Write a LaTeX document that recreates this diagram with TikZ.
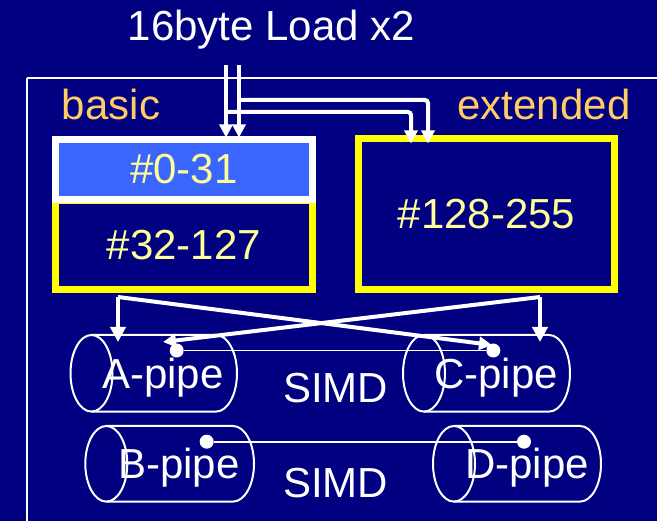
\documentclass[tikz,border=0pt]{standalone}
\usepackage{fontspec}
\setmainfont{Liberation Sans}
\usetikzlibrary{arrows.meta}
\definecolor{navy}{RGB}{0,0,128}
\definecolor{regblue}{RGB}{58,102,255}
\definecolor{labelorange}{RGB}{255,204,102}
\definecolor{numyellow}{RGB}{255,255,153}
\definecolor{boxyellow}{RGB}{255,255,0}
\tikzset{
  bigtext/.style={font=\fontsize{42}{48}\selectfont, inner sep=0pt},
  regbox/.style={bigtext, line width=7pt, text=numyellow, minimum width=#1, inner sep=0pt},
  conn/.style={white, line width=4pt, -{Triangle[length=13pt,width=13pt]}},
  bigconn/.style={white, line width=4pt, -{Triangle[length=15pt,width=15pt]}},
  pipeline/.style={white, line width=2pt},
  pipedot/.style={circle, fill=white, inner sep=0pt, minimum size=14pt},
  dotlink/.style={white, line width=1.8pt},
}
% left centre x, right centre x, centre y, y radius
\newcommand\cylpipe[4]{%
  \draw[pipeline] (#1,#3) ellipse (21 and #4);
  \draw[pipeline] (#1,#3-#4) -- (#2,#3-#4) arc(-90:90:21 and #4) -- (#1,#3+#4);
}
\begin{document}
\begin{tikzpicture}[x=1pt,y=-1pt]
\fill[navy] (0,0) rectangle (657,521);
\useasboundingbox (0,0) rectangle (657,521);
% outer frame
\draw[white, line width=1.5pt] (27,78) -- (680,78);
\draw[white, line width=1.5pt] (27,78) -- (27,540);
% title and labels
\node[bigtext, text=white, anchor=base] (title) at (271.5,41) {16byte Load x2};
\node[bigtext, text=labelorange, anchor=base] (basic) at (111,120) {basic};
\node[bigtext, text=labelorange, anchor=base] (ext) at (544,120) {extended};
% register boxes
\node[regbox=257pt, draw=boxyellow, minimum height=89pt] (reg2) at (184,245) {\#32-127};
\node[regbox=257pt, draw=white, fill=regblue, minimum height=60pt] (reg1) at (184,169.5) {\#0-31};
\node[regbox=256pt, draw=boxyellow, minimum height=151pt] (reg3) at (486.5,214) {\#128-255};
% pipes
\cylpipe{91.5}{216}{373.3}{38.3}
\cylpipe{424}{549}{373.3}{38.3}
\cylpipe{106.3}{233}{463.8}{37.8}
\cylpipe{454}{580}{463.8}{37.8}
\node[bigtext, text=white, anchor=base] (pA) at (163,389) {A-pipe};
\node[bigtext, text=white, anchor=base] (pC) at (496,389) {C-pipe};
\node[bigtext, text=white, anchor=base] (simd1) at (335.5,403) {SIMD};
\node[bigtext, text=white, anchor=base] (pB) at (179,478.5) {B-pipe};
\node[bigtext, text=white, anchor=base] (pD) at (527,478.5) {D-pipe};
\node[bigtext, text=white, anchor=base] (simd2) at (335.5,498) {SIMD};
% dots and SIMD links
\node[pipedot] (dA) at (176.7,350.5) {};
\node[pipedot] (dC) at (493.3,350.5) {};
\node[pipedot] (dB) at (206.7,441.7) {};
\node[pipedot] (dD) at (524,441.7) {};
\draw[dotlink] (dA) -- (dC);
\draw[dotlink] (dB) -- (dD);
% load arrows
\coordinate (s1) at (226,65);
\coordinate (s2) at (239,65);
\coordinate (b1) at (226,112);
\coordinate (c1) at (411,112);
\coordinate (b2) at (239,100);
\coordinate (c2) at (428,100);
\draw[conn, shorten >=-1.5pt] (s1) -- (s1 |- reg1.north);
\draw[conn, shorten >=-1.5pt] (s2) -- (s2 |- reg1.north);
\draw[conn, rounded corners=3pt, shorten >=-8.5pt] (b1) -- (c1) -- (c1 |- reg3.north);
\draw[conn, rounded corners=3pt, shorten >=-8.5pt] (b2) -- (c2) -- (c2 |- reg3.north);
% distribution arrows
\coordinate (l0) at (118,297);
\coordinate (r0) at (540,297);
\coordinate (tA) at (163,342);
\coordinate (tC) at (492,345);
\draw[bigconn, shorten >=8.5pt] (l0) -- (l0 |- dA);
\draw[bigconn, shorten >=8.5pt] (r0) -- (r0 |- dA);
\draw[conn] (l0) -- (tC);
\draw[conn] (r0) -- (tA);
\end{tikzpicture}
\end{document}
